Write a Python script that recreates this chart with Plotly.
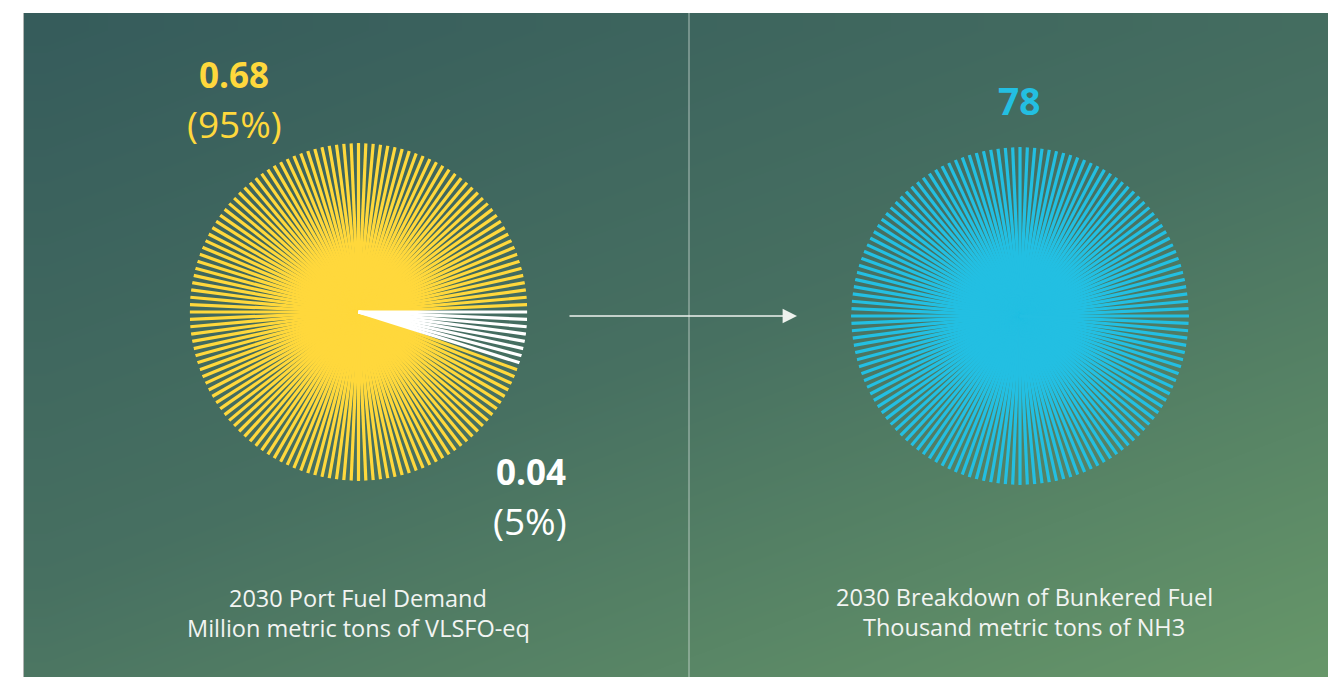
import numpy as np
import plotly.graph_objects as go

# ---- data ----
port_labels = ["Conventional", "NH3"]
port_values = [0.68, 0.04]          # million metric tons VLSFO-eq
port_value_text = ["0.68", "0.04"]
port_pct_text = ["(95%)", "(5%)"]
bunker_value = 78                   # thousand metric tons NH3
n_rays = 144                        # rays per sunburst
left_title = ["2030 Port Fuel Demand", "Million metric tons of VLSFO-eq"]
right_title = ["2030 Breakdown of Bunkered Fuel", "Thousand metric tons of NH3"]

# ---- style ----
W, H = 1328, 677
YELLOW = "#FFD83C"
CYAN = "#23BFE2"
WHITE = "#FFFFFF"
TXT = "#F2F4F2"
FONT = "Open Sans, Lato, sans-serif"
panel_x0, panel_y0 = 23, 13
left_c, right_c, rad = (358.5, 312), (1020, 316), 169

fig = go.Figure()

# background gradient panel (decoration); extends past the right/bottom edge, clipped by axes
nx, ny = 30, 20
ex = np.linspace(panel_x0, W + 40, nx + 1)
ey = np.linspace(panel_y0, H + 20, ny + 1)
cx_ = (ex[:-1] + ex[1:]) / 2
cy_ = (ey[:-1] + ey[1:]) / 2
GX, GY = np.meshgrid((cx_ - panel_x0) / (W - panel_x0), (cy_ - panel_y0) / (H - panel_y0))
fig.add_trace(go.Heatmap(
    x=ex, y=ey, z=0.42 * GX + 0.58 * GY, zsmooth="best", showscale=False,
    zmin=0, zmax=1.05,
    colorscale=[[0, "#355B5B"], [0.48, "#477061"], [1, "#6A9B6A"]],
    hoverinfo="skip", xaxis="x", yaxis="y"))


def rays(thetas):
    r, t = [], []
    for th in thetas:
        r += [0, 1, None]
        t += [th, th, None]
    return r, t


step = 360.0 / n_rays
n_white = int(round(n_rays * port_values[1] / sum(port_values)))
all_idx = np.arange(n_rays)
white_th = [-(i * step) for i in range(n_white)]
yellow_th = [-(i * step) for i in all_idx[n_white:]]

r, t = rays(yellow_th)
fig.add_trace(go.Scatterpolar(r=r, theta=t, mode="lines", line=dict(color=YELLOW, width=3.2),
                              subplot="polar", hoverinfo="skip"))
r, t = rays(white_th)
fig.add_trace(go.Scatterpolar(r=r, theta=t, mode="lines", line=dict(color=WHITE, width=3.2),
                              subplot="polar", hoverinfo="skip"))
r, t = rays([i * step for i in all_idx])
fig.add_trace(go.Scatterpolar(r=r, theta=t, mode="lines", line=dict(color=CYAN, width=3.2),
                              subplot="polar2", hoverinfo="skip"))


def polar_domain(c):
    cx, cy = c
    return dict(x=[(cx - rad) / W, (cx + rad) / W],
                y=[1 - (cy + rad) / H, 1 - (cy - rad) / H])


polar_style = dict(
    bgcolor="rgba(0,0,0,0)",
    radialaxis=dict(range=[0, 1], visible=False, showgrid=False),
    angularaxis=dict(visible=False, showgrid=False, rotation=0, direction="counterclockwise"),
)

ann = []


def txt(x, y, s, size, color, bold=False):
    ann.append(dict(x=x, y=y, xref="x", yref="y", text=f"<b>{s}</b>" if bold else s,
                    showarrow=False, font=dict(family=FONT, size=size, color=color),
                    xanchor="center", yanchor="middle"))


txt(234, 74, port_value_text[0], 35, YELLOW, bold=True)
txt(234, 123, port_pct_text[0], 37, YELLOW)
txt(531, 471, port_value_text[1], 35, WHITE, bold=True)
txt(530, 520, port_pct_text[1], 37, WHITE)
txt(1019, 100, str(bunker_value), 37, CYAN, bold=True)
txt(358, 598, left_title[0], 23.5, TXT)
txt(358, 628, left_title[1], 23.5, TXT)
txt(1024, 597, right_title[0], 23.5, TXT)
txt(1024, 627, right_title[1], 23.5, TXT)

# arrow
ann.append(dict(x=797, y=316, ax=568, ay=316, xref="x", yref="y", axref="x", ayref="y",
                text="", showarrow=True, arrowhead=2, arrowsize=1.8, arrowwidth=1.6,
                arrowcolor="#EEF2EE"))

fig.update_layout(
    width=W, height=H, margin=dict(l=0, r=0, t=0, b=0),
    paper_bgcolor="white", plot_bgcolor="white", showlegend=False,
    xaxis=dict(range=[0, W], visible=False, fixedrange=True, domain=[0, 1]),
    yaxis=dict(range=[H, 0], visible=False, fixedrange=True, domain=[0, 1]),
    polar=dict(domain=polar_domain(left_c), **polar_style),
    polar2=dict(domain=polar_domain(right_c), **polar_style),
    annotations=ann,
    shapes=[
        dict(type="line", xref="x", yref="y", x0=689, x1=689, y0=panel_y0, y1=H,
             line=dict(color="rgba(220,230,225,0.55)", width=1.3), layer="above"),
        dict(type="line", xref="x", yref="y", x0=panel_x0 + 0.5, x1=panel_x0 + 0.5, y0=panel_y0, y1=H,
             line=dict(color="#B0B4B2", width=1), layer="above"),
    ],
)

page_js = (
    "var d=document.documentElement;d.style.overflow='hidden';d.style.margin='0';"
    "d.style.background='linear-gradient(to bottom,#ffffff 0px,#ffffff 13px,#3F655E 13px,#6A9B6A 677px)';"
    "document.body.style.margin='0';document.body.style.overflow='hidden';"
    "document.body.style.background='transparent';"
)
fig.write_html("out.html", config={"displayModeBar": False}, post_script=page_js)
